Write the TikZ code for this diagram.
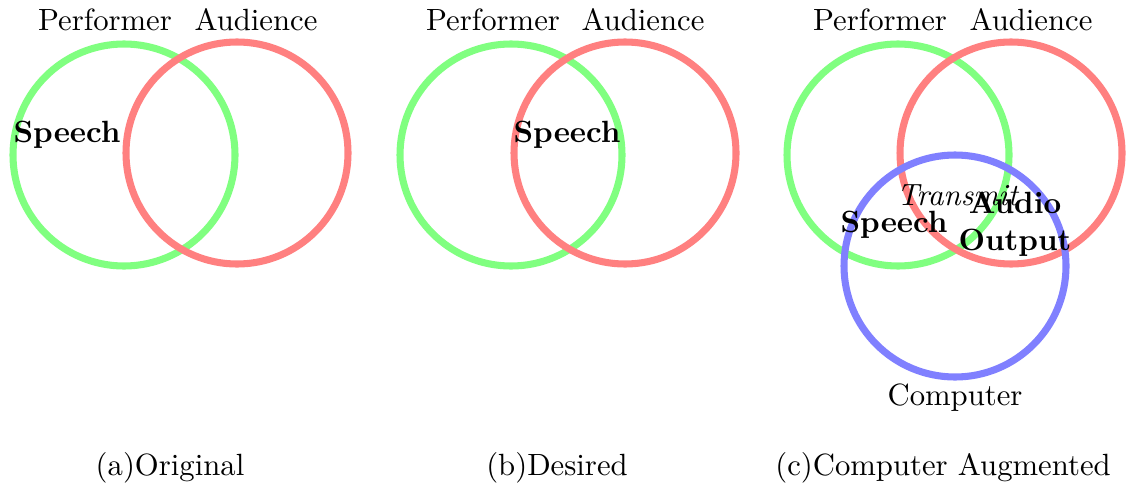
\documentclass[tikz,border=0pt]{standalone}
\usepackage{tikz}
\begin{document}
\begin{tikzpicture}[x=0.3256pt,y=0.3256pt]
\definecolor{fillColor}{RGB}{255,255,255}
\definecolor{perfColor}{RGB}{128,255,128}
\definecolor{audColor}{RGB}{255,128,128}
\definecolor{compColor}{RGB}{128,128,255}
\tikzset{ring/.style={line width=2.3pt},
  lbl/.style={anchor=base,inner sep=0pt,outer sep=0pt}}
\path[use as bounding box,fill=fillColor] (0,0) rectangle (1126,487);

% (a) original
\path[draw=perfColor,ring] (124,332) circle (111);
\path[draw=audColor,ring] (237,334) circle (111);
\node[lbl] (perfA) at (105,456) {Performer};
\node[lbl] (audA) at (256,456) {Audience};
\node[lbl] (speechA) at (67,345) {\textbf{Speech}};
\node[lbl] (capA) at (170,12) {(a)Original};

% (b) desired
\path[draw=perfColor,ring] (511,332) circle (111);
\path[draw=audColor,ring] (625,334) circle (111);
\node[lbl] (perfB) at (493,456) {Performer};
\node[lbl] (audB) at (643,456) {Audience};
\node[lbl] (speechB) at (567,345) {\textbf{Speech}};
\node[lbl] (capB) at (557,12) {(b)Desired};

% (c) computer augmented
\path[draw=perfColor,ring] (898,332) circle (111);
\path[draw=audColor,ring] (1011,334) circle (111);
\path[draw=compColor,ring] (955,221) circle (111);
\node[lbl] (perfC) at (880,456) {Performer};
\node[lbl] (audC) at (1031,456) {Audience};
\node[lbl] (speechC) at (894,255) {\textbf{Speech}};
\node[lbl] (transmit) at (958,282) {\textit{Transmit}};
\node[lbl,align=center] (output) at (1015,237) {\textbf{Audio}\\\textbf{Output}};
\node[lbl] (computer) at (955,82) {Computer};
\node[lbl] (capC) at (943,12) {(c)Computer Augmented};
\end{tikzpicture}
\end{document}
